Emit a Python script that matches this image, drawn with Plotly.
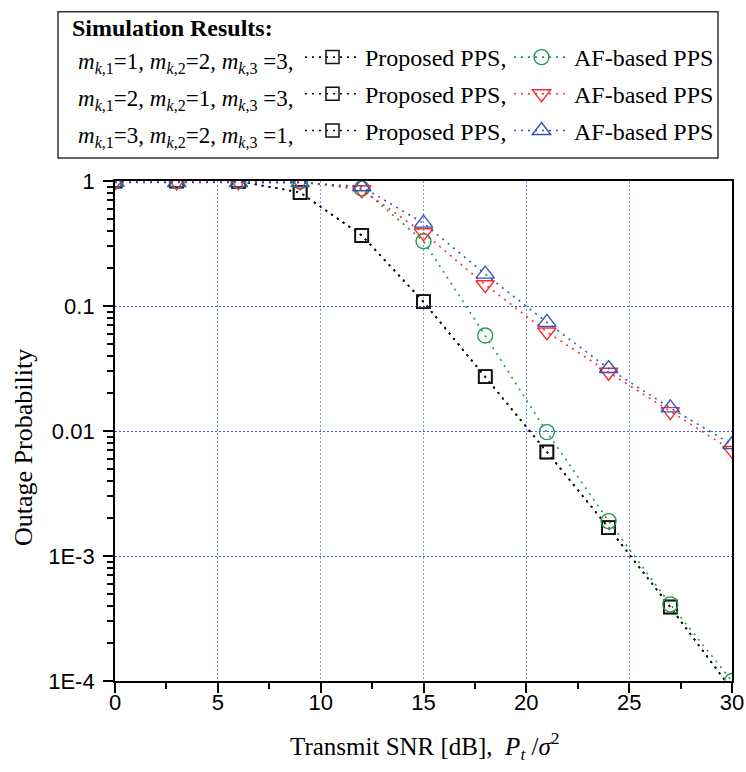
import plotly.graph_objects as go

# ---------------- data ----------------
snr_db = [0, 3, 6, 9, 12, 15, 18, 21, 24, 27, 30]

proposed_pps = [1.0, 1.0, 0.995, 0.81, 0.367, 0.108, 0.0272, 0.0068, 0.00168, 0.00039, 0.000085]
af_case1 = [0.995, 0.995, 0.995, 0.99, 0.87, 0.33, 0.058, 0.0098, 0.0019, 0.00041, 0.0001]
af_case2 = [0.99, 0.985, 0.985, 0.985, 0.85, 0.385, 0.148, 0.062, 0.0295, 0.0143, 0.0070]
af_case3 = [0.975, 0.97, 0.97, 0.97, 0.90, 0.46, 0.18, 0.074, 0.0316, 0.0153, 0.0078]

case_labels = [
    "<i>m</i><sub><i>k</i>,1</sub>=1, <i>m</i><sub><i>k</i>,2</sub>=2, <i>m</i><sub><i>k</i>,3</sub> =3,",
    "<i>m</i><sub><i>k</i>,1</sub>=2, <i>m</i><sub><i>k</i>,2</sub>=1, <i>m</i><sub><i>k</i>,3</sub> =3,",
    "<i>m</i><sub><i>k</i>,1</sub>=3, <i>m</i><sub><i>k</i>,2</sub>=2, <i>m</i><sub><i>k</i>,3</sub> =1,",
]
proposed_names = ["Proposed PPS,", "Proposed PPS,", "Proposed PPS,"]
af_names = ["AF-based PPS", "AF-based PPS", "AF-based PPS"]

x_ticks = [0, 5, 10, 15, 20, 25, 30]
y_ticks = [1e-4, 1e-3, 1e-2, 1e-1, 1]
y_ticktext = ["1E-4", "1E-3", "0.01", "0.1", "1"]
y_minor = [m * 10.0 ** e for e in range(-4, 0) for m in range(2, 10)]

# ---------------- styles ----------------
BLACK = "#111111"
GREEN = "#1f9a4b"
RED = "#ff2a2a"
BLUE = "#2f55b8"
SERIF = "Liberation Serif, Times New Roman, serif"
SANS = "Liberation Sans, Arial, sans-serif"
DOT = "2px,5px"

fig = go.Figure()

for i in range(3):
    fig.add_trace(go.Scatter(
        x=snr_db, y=proposed_pps, mode="lines+markers", name=proposed_names[i],
        line=dict(color=BLACK, width=1.6, dash=DOT),
        marker=dict(symbol="square-open", size=13, color=BLACK, line=dict(width=1.5, color=BLACK)),
        legend="legend2", legendgroup="p%d" % i, showlegend=True,
    ))

af_series = [af_case1, af_case2, af_case3]
af_colors = [GREEN, RED, BLUE]
af_symbols = ["circle-open", "triangle-down-open", "triangle-up-open"]
af_sizes = [15, 16, 16]
for i in range(3):
    fig.add_trace(go.Scatter(
        x=snr_db, y=af_series[i], mode="lines+markers", name=af_names[i],
        line=dict(color=af_colors[i], width=1.6, dash=DOT),
        marker=dict(symbol=af_symbols[i], size=af_sizes[i], color=af_colors[i],
                    line=dict(width=1.4, color=af_colors[i])),
        legend="legend3", legendgroup="a%d" % i, showlegend=True,
    ))

# ---------------- geometry helpers (plot area in px) ----------------
L, R, T, B = 115, 14, 181, 91
W, H = 746, 772
PW, PH = W - L - R, H - T - B


def px_x(p):
    return (p - L) / PW


def px_y(p):
    return (H - B - p) / PH


legend_common = dict(
    font=dict(family=SERIF, size=24, color="black"),
    bgcolor="rgba(0,0,0,0)", borderwidth=0, itemwidth=55,
    orientation="v", xanchor="left", yanchor="top",
    traceorder="grouped", tracegroupgap=2.5, itemclick=False,
)

fig.update_layout(
    width=W, height=H,
    margin=dict(l=L, r=R, t=T, b=B, autoexpand=False),
    paper_bgcolor="white", plot_bgcolor="white",
    showlegend=True,
    legend2=dict(x=px_x(300), y=px_y(35), **legend_common),
    legend3=dict(x=px_x(509), y=px_y(35), **legend_common),
    xaxis=dict(
        range=[0, 30], tickvals=x_ticks, ticks="outside", ticklen=10, tickwidth=1.8,
        tickcolor="black", showline=True, linecolor="black", linewidth=1.8, mirror=True,
        showgrid=True, gridcolor="#7f98dc", gridwidth=1.4, griddash="1.5px,2.5px", zeroline=False,
        tickfont=dict(family=SANS, size=22, color="black"), ticklabelstandoff=-9,
        minor=dict(dtick=2.5, ticks="outside", ticklen=6, tickwidth=1.5, tickcolor="black", showgrid=False),
    ),
    yaxis=dict(
        type="log", range=[-4, 0], tickvals=y_ticks, ticktext=y_ticktext,
        ticks="outside", ticklen=10, tickwidth=1.8, tickcolor="black",
        showline=True, linecolor="black", linewidth=1.8, mirror=True,
        showgrid=True, gridcolor="#3a5cc4", gridwidth=1.4, griddash="1.5px,2.5px", zeroline=False,
        tickfont=dict(family=SANS, size=22, color="black"), ticklabelstandoff=4,
        minor=dict(tickvals=y_minor, ticks="outside", ticklen=6, tickwidth=1.5, tickcolor="black", showgrid=False),
    ),
)

# legend box
fig.add_shape(type="rect", xref="paper", yref="paper",
              x0=px_x(58), x1=px_x(718), y0=px_y(158), y1=px_y(11.7),
              line=dict(color="#333333", width=1.5), fillcolor="rgba(0,0,0,0)", layer="above")

fig.add_annotation(xref="paper", yref="paper", x=px_x(70), y=px_y(28), xanchor="left", yanchor="middle",
                   text="<b>Simulation Results:</b>", showarrow=False,
                   font=dict(family=SERIF, size=24, color="black"))
row_centers = [59, 96, 133]
for i in range(3):
    fig.add_annotation(xref="paper", yref="paper", x=px_x(76), y=px_y(row_centers[i] + 4),
                       xanchor="left", yanchor="middle", text=case_labels[i], showarrow=False,
                       font=dict(family=SERIF, size=23, color="black"))

# axis titles
fig.add_annotation(xref="paper", yref="paper", x=px_x(23), y=px_y(448), xanchor="center", yanchor="middle",
                   textangle=-90, text="Outage Probability", showarrow=False,
                   font=dict(family=SERIF, size=26, color="black"))
fig.add_annotation(xref="paper", yref="paper", x=px_x(425), y=px_y(746), xanchor="center", yanchor="middle",
                   text="Transmit SNR [dB],\u00a0\u00a0<i>P</i><sub><i>t</i></sub> /<i>σ</i><sup>2</sup>",
                   showarrow=False, font=dict(family=SERIF, size=25, color="black"))

fig.write_html("out.html")
